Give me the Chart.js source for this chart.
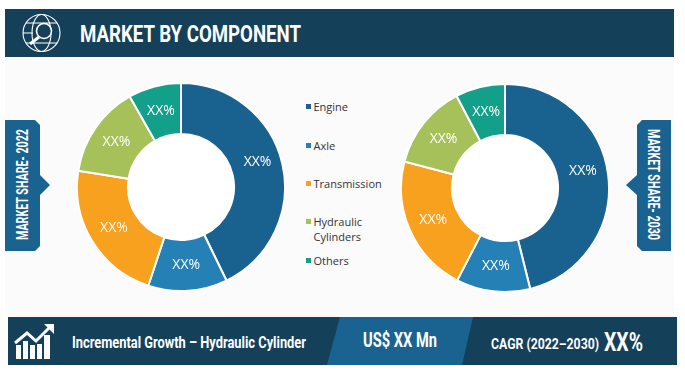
<!DOCTYPE html>
<html>
<head>
<meta charset="utf-8">
<title>Market by Component</title>
<script src="https://cdn.jsdelivr.net/npm/chart.js@4/dist/chart.umd.min.js"></script>
<style>
  html, body { margin: 0; padding: 0; background: #fff; }
  #page { position: relative; width: 685px; height: 371px; overflow: hidden; font-family: Roboto, sans-serif; }
  #decor { position: absolute; left: 0; top: 0; }
  #decor text { fill: #fff; font-family: Roboto, sans-serif; font-weight: 700; dominant-baseline: central; }
  canvas { position: absolute; }
  #legend { position: absolute; left: 0; top: 0; font: 11px "Open Sans", sans-serif; color: #333; line-height: 15px; }
  .item { position: absolute; left: 313.5px; width: 62px; }
  .item i { position: absolute; left: -7.5px; top: 5px; width: 5px; height: 5px; }
</style>
</head>
<body>
<div id="page">
  <svg id="decor" width="685" height="371">
    <rect x="5" y="57" width="669" height="260" fill="#fbfbfb"/>
    <rect x="5" y="9" width="669" height="48" fill="#14405a"/>
    <rect x="8" y="317" width="669" height="48" fill="#14405a"/>
    <polygon points="340,317 473,317 462,365 327,365" fill="#1a6390"/>

    <!-- globe + magnifier -->
    <g fill="none" stroke="#fff" stroke-width="1.1">
      <circle cx="41.500" cy="33" r="18.500"/>
      <ellipse cx="41.500" cy="33" rx="9.500" ry="18.500"/>
      <path d="M26 23H57M26 43H57M23 33H33"/>
      <circle cx="44" cy="31" r="7.500" fill="#14405a" stroke-width="1.600"/>
      <path d="M39 37L30 44" stroke-width="3"/>
    </g>

    <!-- growth icon -->
    <g fill="#fff">
      <rect x="16" y="345" width="5" height="14"/>
      <rect x="23" y="341" width="5" height="18"/>
      <rect x="30" y="345" width="5" height="14"/>
      <rect x="37" y="344" width="5" height="15"/>
      <rect x="44" y="335" width="6" height="24"/>
      <polygon points="44,324 54,324 54,334 50.500,330.500"/>
    </g>
    <path d="M15 343L27 333L36 341L51 326" fill="none" stroke="#fff" stroke-width="3"/>

    <polygon points="5,120 35,120 40,125 40,175 50,185 40,195 40,246 35,251 5,251" fill="#1a6390"/>
    <polygon points="671,120 642,120 637,125 637,175 626,185 637,195 637,246 642,251 671,251" fill="#1a6390"/>

    <text x="80" y="33.500" font-size="24" textLength="221" lengthAdjust="spacingAndGlyphs">MARKET BY COMPONENT</text>
    <text x="72" y="342" font-size="16" textLength="234" lengthAdjust="spacingAndGlyphs">Incremental Growth – Hydraulic Cylinder</text>
    <text x="363" y="340" font-size="20" textLength="74" lengthAdjust="spacingAndGlyphs">US$ XX Mn</text>
    <text x="491" y="344" font-size="15" textLength="108" lengthAdjust="spacingAndGlyphs">CAGR (2022–2030)</text>
    <text x="604" y="342" font-size="26" textLength="39" lengthAdjust="spacingAndGlyphs">XX%</text>
    <text transform="translate(22.500 240) rotate(-90)" font-size="16" textLength="111" lengthAdjust="spacingAndGlyphs">MARKET SHARE- 2022</text>
    <text transform="translate(653 129) rotate(90)" font-size="16" textLength="111" lengthAdjust="spacingAndGlyphs">MARKET SHARE- 2030</text>
  </svg>

  <canvas id="chart2022" width="210" height="210" style="left:76px;top:82px"></canvas>
  <canvas id="chart2030" width="210" height="210" style="left:400px;top:83px"></canvas>
  <div id="legend"></div>
</div>

<script>
const categories = ["Engine", "Axle", "Transmission", "Hydraulic Cylinders", "Others"];
const share2022 = [42.8, 12.3, 22.4, 14.3, 8.2];
const share2030 = [46.1, 11.5, 21.5, 13.2, 7.7];
const sliceLabels = ["XX%", "XX%", "XX%", "XX%", "XX%"];
const colors = ["#19628f", "#2580b5", "#f7a11f", "#a6c15a", "#12a08a"];

// the engine label sits a bit higher than the middle of its slice
const labelNudgeY = [-7, 0, 0, 0, 0];
const legendTops = [99, 138, 176, 214, 253];

const legendEl = document.getElementById("legend");
categories.forEach((name, i) => {
    const item = document.createElement("div");
    item.className = "item";
    item.style.top = legendTops[i] + "px";
    item.innerHTML = '<i style="background:' + colors[i] + '"></i>' + name;
    legendEl.appendChild(item);
});

const sliceText = {
    id: "sliceText",
    beforeDatasetsDraw(chart) {
        // white hole, the panel behind is slightly grey
        const first = chart.getDatasetMeta(0).data[0];
        const ctx = chart.ctx;
        ctx.save();
        ctx.fillStyle = "#fff";
        ctx.beginPath();
        ctx.arc(first.x, first.y, first.innerRadius, 0, Math.PI * 2);
        ctx.fill();
        ctx.restore();
    },
    afterDatasetsDraw(chart) {
        const ctx = chart.ctx;
        ctx.save();
        ctx.fillStyle = "#fff";
        ctx.font = '14px "Open Sans", sans-serif';
        ctx.textAlign = "center";
        ctx.textBaseline = "middle";
        chart.getDatasetMeta(0).data.forEach((arc, i) => {
            const pos = arc.tooltipPosition();
            ctx.fillText(sliceLabels[i], pos.x, pos.y + labelNudgeY[i]);
        });
        ctx.restore();
    }
};

function makeDonut(id, values) {
    new Chart(document.getElementById(id), {
        type: "doughnut",
        data: {
            labels: categories,
            datasets: [{
                data: values,
                backgroundColor: colors,
                borderColor: "#fff",
                borderWidth: 2
            }]
        },
        options: {
            responsive: false,
            animation: false,
            cutout: "51%",
            plugins: {
                legend: { display: false },
                tooltip: { enabled: false }
            }
        },
        plugins: [sliceText]
    });
}

makeDonut("chart2022", share2022);
makeDonut("chart2030", share2030);
</script>
</body>
</html>
